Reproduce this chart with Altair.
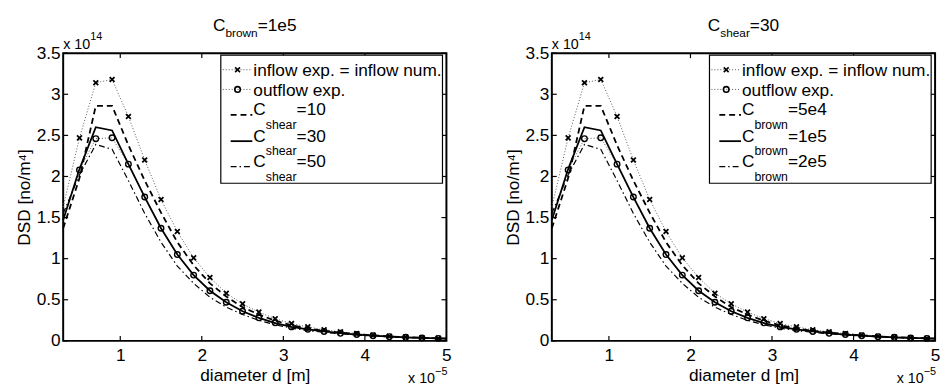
import altair as alt
import pandas as pd

# ---------------- data (diameter in 1e-5 m, DSD in 1e14 no/m^4) ----------------
x_exp = [0.5, 0.7, 0.9, 1.1, 1.3, 1.5, 1.7, 1.9, 2.1, 2.3, 2.5, 2.7, 2.9, 3.1,
         3.3, 3.5, 3.7, 3.9, 4.1, 4.3, 4.5, 4.7, 4.9]
inflow_exp = [2.47, 3.14, 3.18, 2.73, 2.20, 1.72, 1.33, 1.01, 0.77, 0.58, 0.45, 0.35,
              0.27, 0.21, 0.17, 0.135, 0.11, 0.09, 0.07, 0.057, 0.046, 0.037, 0.03]
outflow_exp = [2.08, 2.46, 2.47, 2.15, 1.75, 1.37, 1.05, 0.80, 0.61, 0.47, 0.36, 0.28,
               0.22, 0.17, 0.14, 0.115, 0.092, 0.078, 0.063, 0.051, 0.043, 0.035, 0.03]
inflow_start_x = [0.3]
inflow_start_y = [1.63]

x_num = [0.3, 0.5, 0.7, 0.9, 1.1, 1.3, 1.5, 1.7, 1.9, 2.1, 2.3, 2.5, 2.7, 2.9, 3.1,
         3.3, 3.5, 3.7, 3.9, 4.1, 4.3, 4.5, 4.7, 4.9, 5.0]
num_dashed = [1.37, 1.98, 2.86, 2.86, 2.38, 1.95, 1.56, 1.20, 0.92, 0.70, 0.54, 0.41,
              0.32, 0.245, 0.19, 0.15, 0.122, 0.10, 0.082, 0.067, 0.055, 0.045, 0.037,
              0.030, 0.028]
num_solid = [1.47, 2.09, 2.60, 2.56, 2.15, 1.75, 1.37, 1.05, 0.80, 0.61, 0.47, 0.36,
             0.28, 0.215, 0.17, 0.14, 0.115, 0.093, 0.077, 0.063, 0.052, 0.043, 0.035,
             0.029, 0.027]
num_dashdot = [1.55, 2.02, 2.39, 2.33, 1.95, 1.55, 1.20, 0.91, 0.70, 0.53, 0.41, 0.32,
               0.25, 0.195, 0.155, 0.125, 0.104, 0.086, 0.071, 0.059, 0.049, 0.04, 0.033,
               0.028, 0.026]

x_ticks = [1, 2, 3, 4, 5]
y_ticks = [0, 0.5, 1, 1.5, 2, 2.5, 3, 3.5]

panel_titles = [("brown", "=1e5"), ("shear", "=30")]
legend_subs = ["shear", "brown"]
legend_vals = [["=10", "=30", "=50"], ["=5e4", "=1e5", "=2e5"]]
legend_fixed = ["inflow exp. = inflow num.", "outflow exp."]

# ---------------- style ----------------
FONT = "Liberation Sans"
FS = 17.5
SFS = 12.5
EFS = 14.5
ESFS = 11
W, H = 389, 292
XMARK = "M-1,-1L1,1M-1,1L1,-1"
DOT = [1, 2]
DASH = [6, 4]
DASHDOT = [6, 3, 1.5, 3]

AW = {"C": 722, "b": 556, "r": 333, "o": 556, "w": 722, "n": 556, "s": 500, "h": 556,
      "e": 556, "a": 556, "=": 584, ".": 278, " ": 278, "x": 500, "\u2212": 584,
      "-": 333, "i": 222, "f": 278, "l": 222, "p": 556, "u": 556, "m": 833, "t": 278}
for d in "0123456789":
    AW[d] = 556


def tw(t, s):
    return sum(AW.get(c, 556) for c in t) * s / 1000.0


ONE = pd.DataFrame({"k": [0]})

xscale = alt.Scale(domain=[0.3, 5], nice=False, zero=False)
yscale = alt.Scale(domain=[0, 3.5], nice=False, zero=False)
xaxis = alt.Axis(values=x_ticks, title="diameter d [m]", labelExpr="'' + datum.value",
                 labelPadding=6, titlePadding=3, labelFlush=False)
yaxis = alt.Axis(values=y_ticks, title="DSD [no/m\u2074]", labelExpr="'' + datum.value",
                 labelPadding=3, titlePadding=3, labelFlush=False)


def X(f):
    return alt.X(f + ":Q", scale=xscale, axis=xaxis)


def Y(f):
    return alt.Y(f + ":Q", scale=yscale, axis=yaxis)


def txt(t, x, y, s):
    return alt.Chart(ONE).mark_text(align="left", baseline="alphabetic", font=FONT,
                                    fontSize=s, color="black").encode(
        x=alt.value(x), y=alt.value(y), text=alt.value(t))


def seq(parts, x0, y0):
    out = []
    x = x0
    for t, s, dy in parts:
        out.append(txt(t, x, y0 + dy, s))
        x += tw(t, s)
    return out


def width_of(parts):
    return sum(tw(t, s) for t, s, _ in parts)


def line_layer(xs, ys, dash, sw, color="black"):
    df = pd.DataFrame({"x": xs, "y": ys})
    kw = dict(color=color, strokeWidth=sw)
    if dash:
        kw["strokeDash"] = dash
    return alt.Chart(df).mark_line(**kw).encode(x=X("x"), y=Y("y"))


def marker_layer(xs, ys, shape, size, sw):
    df = pd.DataFrame({"x": xs, "y": ys})
    return alt.Chart(df).mark_point(shape=shape, size=size, strokeWidth=sw, color="black",
                                    filled=False, opacity=1).encode(x=X("x"), y=Y("y"))


def panel(i):
    layers = []
    # curves
    layers.append(line_layer(inflow_start_x + x_exp, inflow_start_y + inflow_exp, DOT, 1, "#555"))
    layers.append(line_layer(x_exp, outflow_exp, DOT, 1, "#555"))
    layers.append(line_layer(x_num, num_dashdot, DASHDOT, 1.2))
    layers.append(line_layer(x_num, num_dashed, DASH, 1.8))
    layers.append(line_layer(x_num, num_solid, None, 1.8))
    layers.append(marker_layer(x_exp, inflow_exp, XMARK, 24, 1.8))
    layers.append(marker_layer(x_exp, outflow_exp, "circle", 32, 1.4))

    # inward ticks on all four sides
    xt = pd.DataFrame({"x": x_ticks})
    yt = pd.DataFrame({"y": y_ticks})
    layers.append(alt.Chart(xt).mark_rule(color="black", strokeWidth=1.2).encode(
        x=X("x"), y=alt.value(H - 5), y2=alt.value(H)))
    layers.append(alt.Chart(xt).mark_rule(color="black", strokeWidth=1.2).encode(
        x=X("x"), y=alt.value(0), y2=alt.value(5)))
    layers.append(alt.Chart(yt).mark_rule(color="black", strokeWidth=1.2).encode(
        y=Y("y"), x=alt.value(0), x2=alt.value(5)))
    layers.append(alt.Chart(yt).mark_rule(color="black", strokeWidth=1.2).encode(
        y=Y("y"), x=alt.value(W - 5), x2=alt.value(W)))

    # legend
    layers.append(alt.Chart(ONE).mark_rect(fill="white", stroke="black", strokeWidth=1.2).encode(
        x=alt.value(160), x2=alt.value(385), y=alt.value(2), y2=alt.value(132)))
    tx = 193
    # row 1 and 2
    for yy, label, shape, size in [(16.8, legend_fixed[0], XMARK, 24), (36.8, legend_fixed[1], "circle", 32)]:
        layers.append(alt.Chart(ONE).mark_rule(color="#555", strokeWidth=1, strokeDash=DOT).encode(
            x=alt.value(162), x2=alt.value(192), y=alt.value(yy)))
        layers.append(alt.Chart(ONE).mark_point(shape=shape, size=size, strokeWidth=1.6, color="black",
                                                filled=False, opacity=1).encode(
            x=alt.value(177), y=alt.value(yy)))
        layers.append(txt(label, tx, yy + 6.7, FS))
    styles = [(DASH, 1.8), (None, 1.8), (DASHDOT, 1.2)]
    bases = [63.2, 89.8, 115.6]
    for (dash, sw), base, val in zip(styles, bases, legend_vals[i]):
        kw = dict(color="black", strokeWidth=sw)
        if dash:
            kw["strokeDash"] = dash
        layers.append(alt.Chart(ONE).mark_rule(**kw).encode(
            x=alt.value(170), x2=alt.value(192), y=alt.value(base - 0.5)))
        layers += seq([("C", FS, 0), (legend_subs[i], SFS, 14.0), (val, FS, 0)], tx, base)

    # panel title
    tparts = [("C", FS, 0), (panel_titles[i][0], 12, 6.5), (panel_titles[i][1], FS, 0)]
    layers += seq(tparts, W / 2 - width_of(tparts) / 2, -23)

    # exponent labels
    eparts = [("x 10", EFS, 0), ("14", ESFS, -9)]
    layers += seq(eparts, 0, -4.5)
    bparts = [("x 10", EFS, 0), ("\u22125", ESFS, -8.3)]
    layers += seq(bparts, W + 1 - width_of(bparts), 334.5)

    return alt.layer(*layers).properties(width=W, height=H)


chart = alt.hconcat(panel(0), panel(1), spacing=51).properties(
    padding={"left": 6, "top": 5, "right": 0, "bottom": 0},
    background="white",
).configure_view(stroke="black", strokeWidth=2).configure_axis(
    labelFont=FONT, titleFont=FONT, labelFontSize=FS, titleFontSize=FS,
    titleFontWeight="normal", labelColor="black", titleColor="black",
    ticks=False, domain=False, grid=False)

chart.save("out.html", embed_options={"renderer": "svg", "actions": False})
